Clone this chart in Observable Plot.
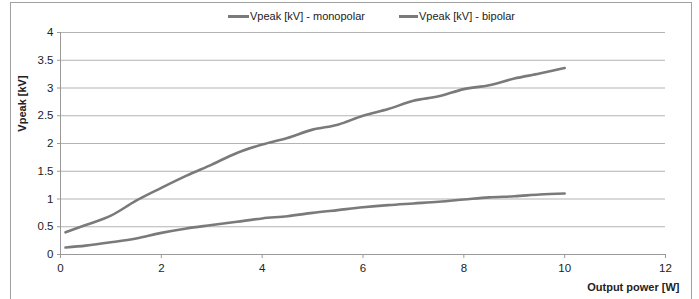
<!DOCTYPE html>
<html>
<head>
<meta charset="utf-8">
<script src="https://cdn.jsdelivr.net/npm/d3@7"></script>
<script src="https://cdn.jsdelivr.net/npm/@observablehq/plot@0.6"></script>
<style>
  html, body { margin: 0; padding: 0; background: #fff; overflow: hidden; }
  #wrap { position: relative; width: 699px; height: 299px; font-family: "Liberation Sans", Arial, sans-serif; }
  #border { position: absolute; left: 10px; top: 2px; width: 682px; height: 330px; border: 1px solid #a0a0a0; box-sizing: border-box; }
  .leg { position: absolute; top: 9px; font-size: 11px; color: #222; white-space: nowrap; line-height: 14px; }
  .leg i { display: inline-block; vertical-align: middle; height: 3px; background: #7a7a7a; margin-right: 1px; position: relative; top: -1px; }
  #chart { position: absolute; left: 0; top: 0; }
</style>
</head>
<body>
<div id="wrap">
  <div id="border"></div>
  <div id="chart"></div>
  <div class="leg" style="left:228px"><i style="width:21px"></i>Vpeak [kV] - monopolar</div>
  <div class="leg" style="left:399px"><i style="width:19px"></i>Vpeak [kV] - bipolar</div>
</div>
<script>
const seriesNames = ["Vpeak [kV] - monopolar", "Vpeak [kV] - bipolar"];
const power = [0.1, 0.5, 1, 1.5, 2, 2.5, 3, 3.5, 4, 4.5, 5, 5.5, 6, 6.5, 7, 7.5, 8, 8.5, 9, 9.5, 10];
const monopolar = [0.40, 0.53, 0.70, 0.97, 1.20, 1.42, 1.62, 1.83, 1.98, 2.10, 2.25, 2.34, 2.50, 2.62, 2.77, 2.85, 2.98, 3.05, 3.17, 3.26, 3.36];
const bipolar = [0.125, 0.16, 0.22, 0.29, 0.39, 0.47, 0.53, 0.59, 0.65, 0.69, 0.75, 0.80, 0.85, 0.89, 0.92, 0.95, 0.99, 1.03, 1.05, 1.08, 1.10];
const xTicks = [0, 2, 4, 6, 8, 10, 12];
const yTicks = [0, 0.5, 1, 1.5, 2, 2.5, 3, 3.5, 4];
const xLabel = "Output power [W]";
const yLabel = "Vpeak [kV]";

const rows = [];
power.forEach((p, i) => {
  rows.push({x: p, y: monopolar[i], s: seriesNames[0]});
  rows.push({x: p, y: bipolar[i], s: seriesNames[1]});
});

const chart = Plot.plot({
  width: 699,
  height: 299,
  marginLeft: 60,
  marginRight: 34,
  marginTop: 32,
  marginBottom: 45,
  style: { fontFamily: "'Liberation Sans', Arial, sans-serif", fontSize: "11.5px", color: "#222", background: "transparent", overflow: "visible" },
  x: { domain: [0, 12], ticks: xTicks },
  y: { domain: [0, 4], ticks: yTicks },
  marks: [
    Plot.gridY(yTicks, { stroke: "#b3b3b3", strokeOpacity: 1, strokeWidth: 1 }),
    Plot.ruleY([0], { stroke: "#9a9a9a", strokeWidth: 1 }),
    Plot.ruleX([0], { stroke: "#9a9a9a", strokeWidth: 1 }),
    Plot.axisX({ ticks: xTicks, tickSize: 4, tickPadding: 5, stroke: "#9a9a9a", tickFormat: d => String(d), label: null }),
    Plot.axisY({ ticks: yTicks, tickSize: 3, tickPadding: 4, stroke: "#9a9a9a", tickFormat: d => String(d), label: null }),
    Plot.line(rows, { x: "x", y: "y", z: "s", curve: "monotone-x", stroke: "#7a7a7a", strokeWidth: 2.6 }),
    Plot.text([xLabel], { frameAnchor: "bottom-right", dx: 14, dy: 36, text: d => d, fontWeight: "bold", fontSize: 11, textAnchor: "end", fill: "#222" }),
    Plot.text([yLabel], { frameAnchor: "left", dx: -38, dy: -40, rotate: -90, textAnchor: "middle", text: d => d, fontWeight: "bold", fontSize: 11, fill: "#222" })
  ]
});
document.getElementById("chart").appendChild(chart);
</script>
</body>
</html>
